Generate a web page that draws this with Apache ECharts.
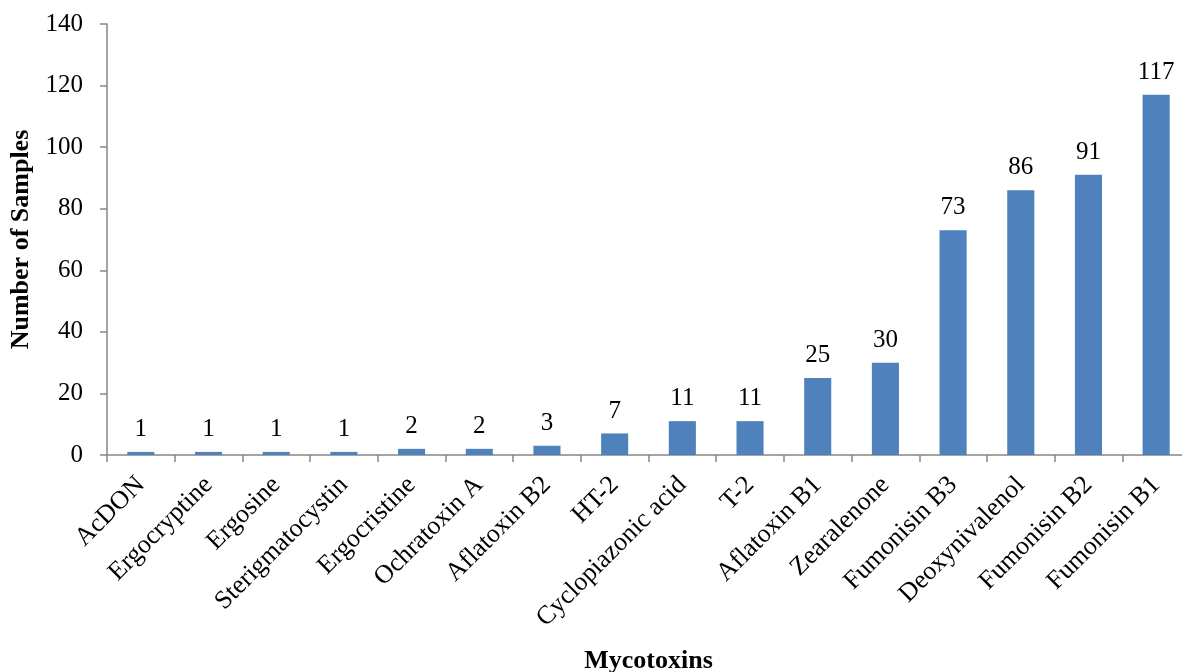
<!DOCTYPE html>
<html><head><meta charset="utf-8">
<script src="https://cdn.jsdelivr.net/npm/echarts@6/dist/echarts.min.js"></script>
<style>html,body{margin:0;padding:0;background:#fff}#c{width:1182px;height:672px}</style>
</head><body><div id="c"></div>
<script>
const categories = ["AcDON","Ergocryptine","Ergosine","Sterigmatocystin","Ergocristine","Ochratoxin A","Aflatoxin B2","HT-2","Cyclopiazonic acid","T-2","Aflatoxin B1","Zearalenone","Fumonisin B3","Deoxynivalenol","Fumonisin B2","Fumonisin B1"];
const values = [1,1,1,1,2,2,3,7,11,11,25,30,73,86,91,117];
const yTicks = {min:0, max:140, interval:20};
const font = '"Liberation Serif","Times New Roman",serif';
const chart = echarts.init(document.getElementById('c'), null, {renderer:'canvas'});
chart.setOption({
  animation:false,
  grid:{left:107, top:24, right:-8, bottom:217, containLabel:false, outerBoundsMode:'none'},
  xAxis:{type:'category', data:categories,
    name:'Mycotoxins', nameLocation:'middle', nameGap:193,
    nameTextStyle:{fontFamily:font, fontSize:26, fontWeight:'bold', color:'#000'},
    axisLine:{lineStyle:{color:'#868686', width:1.5}},
    axisTick:{show:true, length:7, lineStyle:{color:'#868686', width:1.5}, alignWithLabel:false},
    axisLabel:{rotate:45, interval:0, margin:26, fontFamily:font, fontSize:26, color:'#000'}
  },
  yAxis:{type:'value', min:yTicks.min, max:yTicks.max, interval:yTicks.interval,
    name:'Number of Samples', nameLocation:'middle', nameGap:72,
    nameTextStyle:{fontFamily:font, fontSize:26, fontWeight:'bold', color:'#000'},
    splitLine:{show:false},
    axisLine:{show:true, lineStyle:{color:'#868686', width:1.5}},
    axisTick:{show:true, length:7, lineStyle:{color:'#868686', width:1.5}},
    axisLabel:{margin:24, fontFamily:font, fontSize:25, color:'#000'}
  },
  series:[{type:'bar', data:values, barWidth:'40%',
    itemStyle:{color:'#4F81BD'},
    label:{show:true, position:'top', distance:10, fontFamily:font, fontSize:25, color:'#000'}
  }]
});
</script></body></html>
